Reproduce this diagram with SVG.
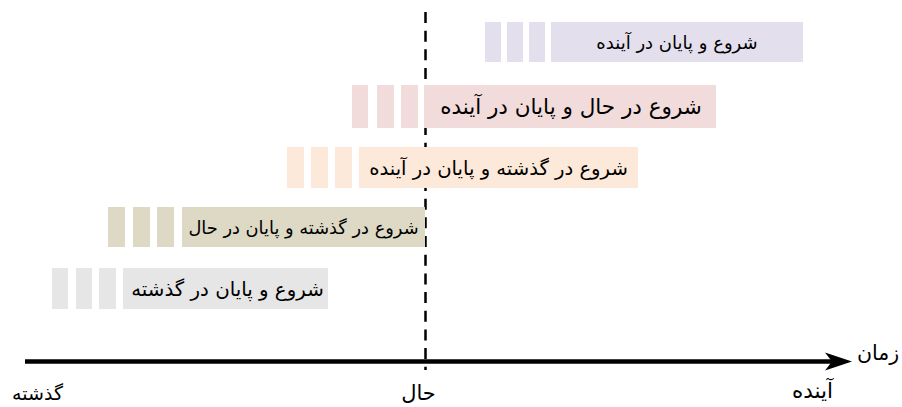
<svg xmlns="http://www.w3.org/2000/svg" width="902" height="407" viewBox="0 0 902 407">
<style>
text{font-family:"DejaVu Sans","Noto Sans",sans-serif;fill:#000;direction:rtl;}
.lbl{text-anchor:middle;}
.p1{fill:#e4dfec}.p2{fill:#f2dcdb}.p3{fill:#fde9d9}.p4{fill:#ddd9c4}.p5{fill:#e6e6e6}
</style>
<defs>
<marker id="ah" markerUnits="userSpaceOnUse" markerWidth="30" markerHeight="20" refX="18" refY="10" orient="auto" viewBox="0 0 30 20">
<path d="M0,1 L27,10 L0,19 L7,10 Z" fill="#000"/>
</marker>
</defs>
<rect width="902" height="407" fill="#fff"/>
<g id="connectors">
<line id="now-line" x1="425.5" y1="12" x2="425.5" y2="370" stroke="#000" stroke-width="2.5" stroke-dasharray="11 7.67"/>
<line id="time-axis" x1="25" y1="361.5" x2="843" y2="361.5" stroke="#000" stroke-width="4.5" marker-end="url(#ah)"/>
</g>
<g id="bar-future">
<rect class="p1" x="485" y="22" width="16" height="40"/>
<rect class="p1" x="507" y="22" width="16" height="40"/>
<rect class="p1" x="529" y="22" width="16" height="40"/>
<rect class="p1" x="551" y="22" width="252" height="40"/>
<text class="lbl" x="677" y="49" font-size="18">شروع و پایان در آینده</text>
</g>
<g id="bar-present-future">
<rect class="p2" x="352" y="85" width="16" height="43"/>
<rect class="p2" x="377" y="85" width="17" height="43"/>
<rect class="p2" x="401" y="85" width="17" height="43"/>
<rect class="p2" x="424" y="85" width="292" height="43"/>
<text class="lbl" x="571" y="114" font-size="21.5">شروع در حال و پایان در آینده</text>
</g>
<g id="bar-past-future">
<rect class="p3" x="287" y="147" width="17" height="41"/>
<rect class="p3" x="311" y="147" width="17" height="41"/>
<rect class="p3" x="335" y="147" width="17" height="41"/>
<rect class="p3" x="359" y="147" width="279" height="41"/>
<text class="lbl" x="498.5" y="175" font-size="19.6">شروع در گذشته و پایان در آینده</text>
</g>
<g id="bar-past-present">
<rect class="p4" x="108" y="207" width="17" height="40"/>
<rect class="p4" x="133" y="207" width="17" height="40"/>
<rect class="p4" x="157" y="207" width="17" height="40"/>
<rect class="p4" x="182" y="207" width="243" height="40"/>
<text class="lbl" x="303.5" y="234" font-size="17.8">شروع در گذشته و پایان در حال</text>
</g>
<g id="bar-past">
<rect class="p5" x="52" y="268" width="16" height="41"/>
<rect class="p5" x="76" y="268" width="16" height="41"/>
<rect class="p5" x="99" y="268" width="17" height="41"/>
<rect class="p5" x="123" y="268" width="205" height="41"/>
<text class="lbl" x="227.5" y="296" font-size="19.8">شروع و پایان در گذشته</text>
</g>
<g id="axis-labels">
<text class="lbl" x="37.5" y="400" font-size="19">گذشته</text>
<text class="lbl" x="418.5" y="400" font-size="21">حال</text>
<text class="lbl" x="812.5" y="398" font-size="21.5">آینده</text>
<text class="lbl" x="878" y="360" font-size="20.5">زمان</text>
</g>
</svg>
